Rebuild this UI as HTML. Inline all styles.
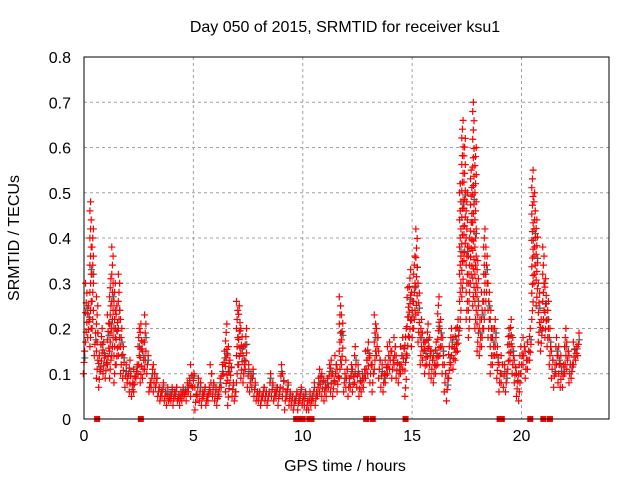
<!DOCTYPE html>
<html><head><meta charset="utf-8"><style>
body{margin:0;background:#fff;}
svg{display:block;font-family:"Liberation Sans",sans-serif;}
</style></head><body>
<svg id="chart" width="640" height="480">
<text x="345" y="32" text-anchor="middle" font-size="16">Day 050 of 2015, SRMTID for receiver ksu1</text>
<text x="345" y="471" text-anchor="middle" font-size="16">GPS time / hours</text>
<text x="19" y="238" text-anchor="middle" font-size="16" transform="rotate(-90 19 238)">SRMTID / TECUs</text>
<g id="grid"></g>
<g id="ticks"></g>
<g id="marks"></g>
<rect x="84" y="57" width="525" height="362" fill="none" stroke="#000" stroke-width="1"/>
</svg>
<script>
const xTicks=[0,5,10,15,20];
const yTicks=[0,0.1,0.2,0.3,0.4,0.5,0.6,0.7,0.8];
const startHour=0, stepHour=0.1;
const upper=[.15,.30,.18,.48,.42,.19,.27,.14,.11,.17,.14,.23,.31,.38,.30,.12,.32,.22,.16,.12,
.10,.13,.08,.11,.09,.20,.21,.17,.23,.14,.08,.11,.12,.09,.07,.06,.08,.06,.07,.05,
.07,.06,.07,.05,.06,.07,.06,.08,.09,.12,.10,.07,.09,.08,.06,.07,.05,.07,.12,.08,
.07,.06,.09,.12,.15,.21,.16,.13,.08,.06,.26,.25,.20,.16,.20,.12,.10,.11,.08,.06,
.06,.05,.07,.06,.05,.10,.08,.06,.07,.06,.12,.10,.06,.08,.06,.05,.04,.06,.05,.07,
.05,.06,.04,.06,.05,.08,.06,.09,.11,.10,.08,.09,.12,.13,.10,.14,.11,.27,.23,.10,
.13,.09,.12,.11,.16,.12,.10,.10,.11,.15,.17,.14,.12,.23,.20,.15,.12,.10,.13,.16,
.17,.15,.18,.14,.12,.16,.18,.20,.29,.33,.28,.36,.42,.30,.22,.19,.17,.21,.18,.15,
.14,.17,.27,.22,.18,.12,.09,.16,.20,.18,.20,.22,.52,.66,.62,.50,.40,.55,.70,.60,
.35,.22,.28,.42,.38,.30,.24,.20,.22,.16,.12,.14,.12,.10,.20,.22,.18,.13,.10,.14,
.16,.18,.15,.17,.20,.55,.50,.44,.30,.22,.38,.31,.26,.20,.15,.12,.18,.16,.14,.12,
.20,.17,.14,.12,.17,.16,.19];
const lower=[.10,.17,.25,.16,.20,.14,.09,.07,.20,.10,.09,.12,.09,.14,.08,.25,.14,.10,.09,.07,
.08,.06,.05,.06,.12,.10,.08,.09,.11,.10,.06,.07,.06,.07,.05,.04,.05,.04,.03,.04,
.04,.03,.05,.04,.03,.04,.05,.04,.06,.05,.07,.02,.05,.04,.03,.05,.03,.04,.06,.05,
.04,.03,.05,.07,.10,.06,.03,.08,.05,.04,.08,.12,.09,.08,.11,.07,.06,.07,.05,.04,
.04,.03,.05,.04,.03,.06,.05,.04,.05,.03,.07,.05,.02,.05,.03,.03,.02,.04,.02,.04,
.03,.03,.02,.02,.03,.04,.03,.05,.06,.05,.04,.05,.07,.06,.05,.08,.06,.09,.12,.06,
.07,.05,.07,.06,.08,.07,.05,.06,.07,.09,.10,.08,.06,.11,.14,.09,.07,.06,.08,.10,
.11,.09,.12,.09,.08,.10,.11,.05,.14,.18,.16,.20,.23,.17,.12,.13,.10,.12,.10,.09,
.08,.10,.12,.14,.10,.06,.04,.09,.12,.11,.13,.15,.20,.27,.35,.22,.18,.30,.25,.20,
.15,.14,.16,.20,.26,.18,.10,.12,.14,.09,.06,.08,.07,.06,.11,.13,.10,.08,.05,.04,
.10,.12,.09,.11,.13,.22,.30,.25,.17,.15,.20,.18,.16,.12,.09,.07,.10,.08,.07,.07,
.10,.11,.08,.09,.12,.13,.14];
const zeroHours=[0.6,2.6,9.7,9.9,10.0,10.3,10.4,12.9,13.2,14.7,19.0,19.1,20.4,21.0,21.3];
const NS="http://www.w3.org/2000/svg";
const X0=84,X1=609,Y0=419,Y1=57;
function xs(h){return X0+(h/24)*(X1-X0);}
function ys(v){return Y0-(v/0.8)*(Y0-Y1);}
function mk(tag,attrs,parent){const e=document.createElementNS(NS,tag);for(const k in attrs)e.setAttribute(k,attrs[k]);parent.appendChild(e);return e;}
const grid=document.getElementById('grid'),ticks=document.getElementById('ticks'),marks=document.getElementById('marks');
xTicks.forEach(t=>{const x=xs(t);
 if(t>0){const g=mk('line',{x1:x,x2:x,y1:Y1,y2:Y0,stroke:'#a0a0a0','stroke-dasharray':'3,3'},grid);
 
 }
 const l=mk('text',{x:x,y:Y0+22,'text-anchor':'middle','font-size':16},ticks);l.textContent=t;
 
 
});
yTicks.forEach(t=>{const y=ys(t);
 if(t>0&&t<0.8){const g=mk('line',{x1:X0,x2:X1,y1:y,y2:y,stroke:'#a0a0a0','stroke-dasharray':'3,3'},grid);
 
 }
 const l=mk('text',{x:X0-13,y:y+6,'text-anchor':'end','font-size':16},ticks);l.textContent=t===0?'0':t.toFixed(1);
 
 
});
function cross(h,v,color){const x=xs(h),y=ys(v);
 const p=mk('path',{d:`M${x-3.5} ${y}h7M${x} ${y-3.5}v7`,stroke:color,'stroke-width':1.2,fill:'none'},marks);
 
 
}
upper.forEach((u,i)=>{const h=startHour+i*stepHour,l=lower[i];
 cross(h+0.04,(u+l)/2+0.01,'#555');
 const lo=Math.min(u,l),hi=Math.max(u,l);
 const n=Math.max(2,Math.round((hi-lo)/0.02));
 for(let k=0;k<=n;k++){const v=lo+(hi-lo)*k/n;cross(h+((k%3)-1)*0.03,v,'#f00');}
});
zeroHours.forEach(h=>{const r=mk('rect',{x:xs(h)-3,y:Y0-3,width:6,height:6,fill:'#f00'},marks);
 
 
});
</script>
</body></html>
